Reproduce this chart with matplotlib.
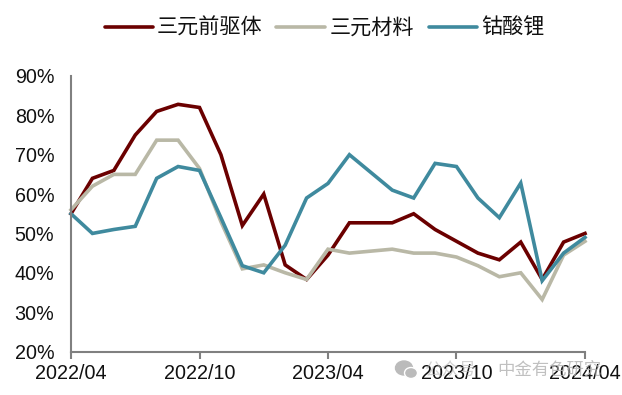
import matplotlib
matplotlib.use('Agg')
import matplotlib.pyplot as plt
from matplotlib.lines import Line2D
from matplotlib.patches import Ellipse

plt.rcParams['font.family'] = ['Liberation Sans', 'Noto Sans CJK SC', 'DejaVu Sans']

# monthly, 2022/04 to 2024/04
months = ['2022/04', '2022/05', '2022/06', '2022/07', '2022/08', '2022/09', '2022/10', '2022/11', '2022/12',
          '2023/01', '2023/02', '2023/03', '2023/04', '2023/05', '2023/06', '2023/07', '2023/08', '2023/09',
          '2023/10', '2023/11', '2023/12', '2024/01', '2024/02', '2024/03', '2024/04']
precursor = [55, 64, 66, 75, 81, 82.8, 82, 70, 52, 60, 42, 38.3, 44.5, 52.7, 52.7, 52.7, 55, 51, 48, 45, 43.3, 47.8, 38.3, 47.8, 50]
cathode = [56, 62, 65, 65, 73.7, 73.7, 66.5, 53, 41, 42, 40, 38.3, 46, 45, 45.5, 46, 45, 45, 44, 41.8, 39, 40, 33.2, 44.5, 48]
lco = [55, 50, 51, 51.8, 64, 67, 66, 54, 41.8, 40, 47, 59, 62.7, 70, 65.5, 61, 59, 67.8, 67, 59, 54, 62.8, 38, 45, 49]

series_names = ['三元前驱体', '三元材料', '钴酸锂']
colors = ['#6b0000', '#b9b8a6', '#3f8a9e']
yticks = [20, 30, 40, 50, 60, 70, 80, 90]

W, H = 622, 395
fig = plt.figure(figsize=(W / 100, H / 100), dpi=100)
ax = fig.add_axes([71 / W, 1 - 351.5 / H, (585 - 71) / W, (351.5 - 76) / H])

x = list(range(len(months)))
for vals, name, c in zip([precursor, cathode, lco], series_names, colors):
    ax.plot(x, vals, color=c, lw=2.6, label=name, solid_joinstyle='miter', clip_on=False)

ax.set_xlim(0, 24)
ax.set_ylim(20, 90)
ax.set_yticks(yticks)
ax.set_yticklabels([f'{v}%' for v in yticks], fontsize=14.2, color='#111111')
ax.set_xticks(x[::6])
ax.set_xticklabels(months[::6], fontsize=14.2, color='#111111')
ax.tick_params(axis='y', length=0, pad=12)
ax.tick_params(axis='x', length=5, width=1.5, color='#808080', pad=4)
for s in ['top', 'right']:
    ax.spines[s].set_visible(False)
for s in ['left', 'bottom']:
    ax.spines[s].set_color('#808080')
    ax.spines[s].set_linewidth(1.5)

# legend placed by hand, the gaps in the original are uneven
leg_x = [(105, 153, 157), (276, 325, 330), (429, 477, 481)]
for (x0, x1, tx), name, c in zip(leg_x, series_names, colors):
    fig.add_artist(Line2D([x0 / W, x1 / W], [1 - 27 / H, 1 - 27 / H], color=c, lw=2.6,
                          solid_capstyle='round', transform=fig.transFigure))
    fig.text(tx / W, 1 - 27.5 / H, name, fontsize=15.2, color='#111111', va='center', ha='left')

# watermark over the axis labels
fig.text(424 / W, 1 - 370 / H, '公众号', fontsize=12.5, color='#b5b5b5', va='center', ha='left', alpha=0.6)
fig.text(497 / W, 1 - 370 / H, '中金有色研究', fontsize=12.5, color='#b5b5b5', va='center', ha='left', alpha=0.85)
fig.add_artist(Ellipse((404 / W, 1 - 368 / H), 17 / W, 14 / H, color='#bbbbbb', transform=fig.transFigure))
fig.add_artist(Ellipse((411 / W, 1 - 373 / H), 13 / W, 11 / H, color='#bbbbbb', ec='white', lw=1, transform=fig.transFigure))

fig.savefig('out.png', dpi=100)
